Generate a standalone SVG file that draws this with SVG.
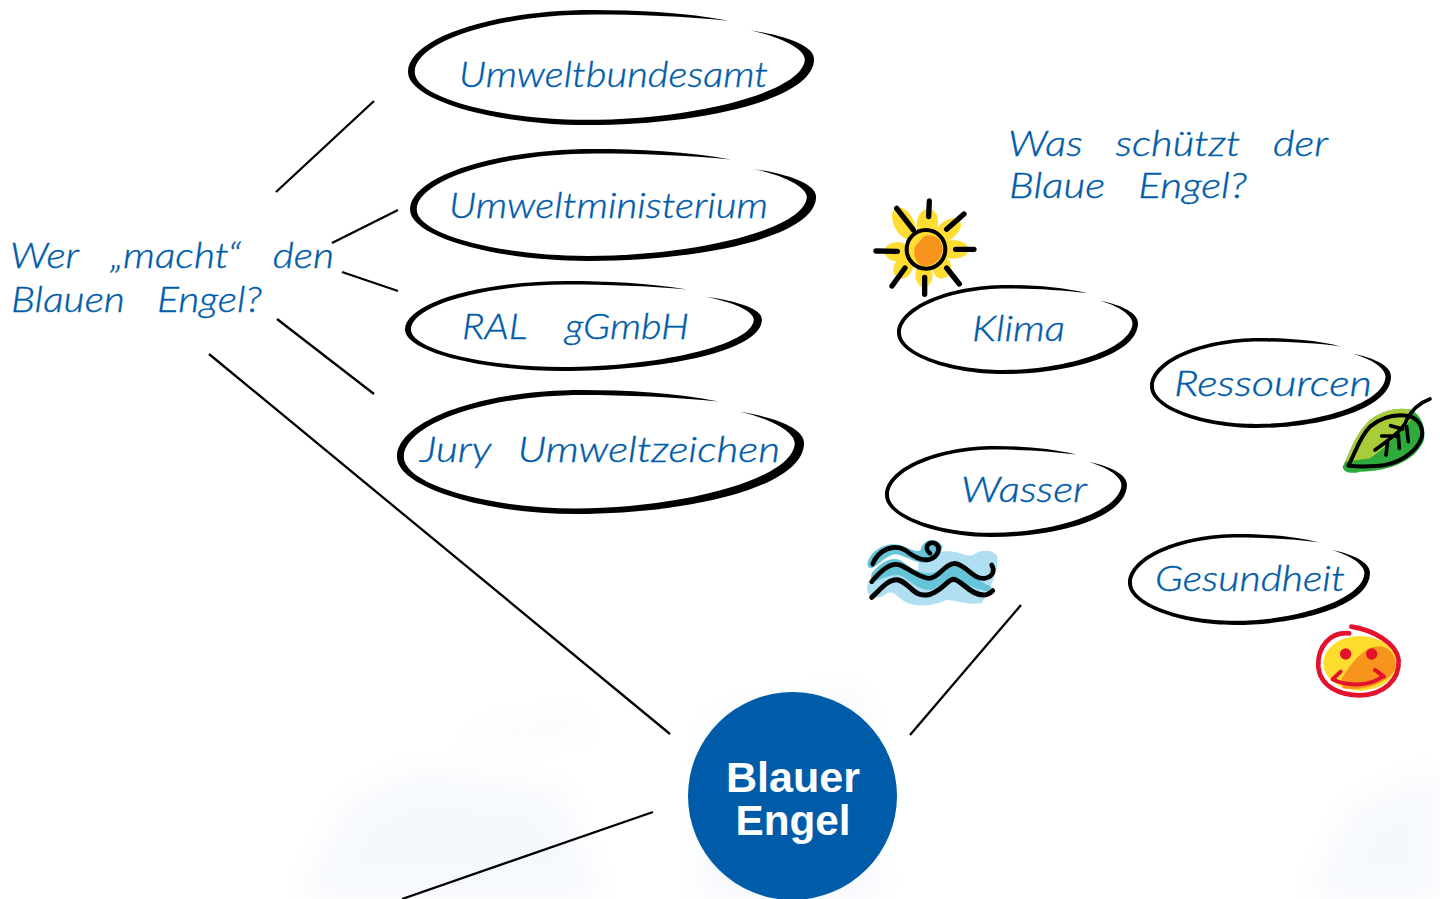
<svg xmlns="http://www.w3.org/2000/svg" width="1440" height="899" viewBox="0 0 1440 899">
<style>
.hw{font-family:"Lato","Open Sans",sans-serif;font-style:italic;font-weight:300;font-size:36px;fill:#005ca9;stroke:#005ca9;stroke-width:.4}
.gap{word-spacing:19px}
.title{font-family:"Liberation Sans",Arial,sans-serif;font-weight:700;font-size:42px;fill:#fff;text-anchor:middle}
.conn{stroke:#000;stroke-width:2.3;fill:none}
.ink{fill:none;stroke:#000;stroke-linecap:round;stroke-linejoin:round}
</style>
<defs>
<filter id="blur" x="-30%" y="-30%" width="160%" height="160%"><feGaussianBlur stdDeviation="14"/></filter>
<path id="bubble" d="M190.5,8.3C165,2 135,0 110,0C50,0 0,22 0,48C0,70 52,89 106,89C172,89 241,70 241,38C241,28 225,20 203,15.7C222,21 235,30 235.5,38C235,64 168,85 106,85C54,85 4,68 4,48C4,25 52,3.5 110,3.5C135,3.5 165,5 190.5,8.3Z"/>
</defs>
<rect width="1440" height="899" fill="#fff"/>
<g id="background" filter="url(#blur)" fill="#eef3fa" opacity=".55">
<path d="M300,899L350,800L420,770L560,790L600,899Z"/>
<path d="M700,899L710,720L860,690L880,899Z"/>
<path d="M1310,899L1350,810L1440,770L1440,899Z"/>
<path d="M470,735L580,715L585,730L470,745Z"/>
</g>
<g id="connectors">
<line class="conn" x1="374" y1="101" x2="276" y2="192"/>
<line class="conn" x1="398" y1="210" x2="332" y2="243"/>
<line class="conn" x1="342" y1="272" x2="398" y2="291"/>
<line class="conn" x1="277" y1="319" x2="374" y2="394"/>
<line class="conn" x1="209" y1="354" x2="670" y2="734"/>
<line class="conn" x1="653" y1="812" x2="402" y2="899"/>
<line class="conn" x1="1021" y1="605" x2="910" y2="735"/>
</g>
<g id="node-blauer-engel">
<ellipse cx="792.5" cy="796" rx="104.5" ry="104" fill="#005ca9"/>
<text class="title" x="793" y="792" textLength="134" lengthAdjust="spacingAndGlyphs">Blauer</text>
<text class="title" x="793" y="835" textLength="115" lengthAdjust="spacingAndGlyphs">Engel</text>
</g>
<g id="label-wer">
<text class="hw gap" x="10" y="268" textLength="324" lengthAdjust="spacingAndGlyphs">Wer „macht“ den</text>
<text class="hw gap" x="11" y="312" textLength="251" lengthAdjust="spacingAndGlyphs">Blauen Engel?</text>
</g>
<g id="label-was">
<text class="hw gap" x="1008" y="156" textLength="320" lengthAdjust="spacingAndGlyphs">Was schützt der</text>
<text class="hw gap" x="1009" y="198" textLength="238" lengthAdjust="spacingAndGlyphs">Blaue Engel?</text>
</g>
<g id="node-umweltbundesamt">
<use href="#bubble" transform="translate(408,10) scale(1.685,1.292)"/>
<text class="hw" x="459" y="87" textLength="309" lengthAdjust="spacingAndGlyphs">Umweltbundesamt</text>
</g>
<g id="node-umweltministerium">
<use href="#bubble" transform="translate(410,149) scale(1.685,1.258)"/>
<text class="hw" x="449" y="218" textLength="319" lengthAdjust="spacingAndGlyphs">Umweltministerium</text>
</g>
<g id="node-ral">
<use href="#bubble" transform="translate(405,281) scale(1.481,1.011)"/>
<text class="hw" style="word-spacing:26px" x="462" y="339" textLength="227" lengthAdjust="spacingAndGlyphs">RAL gGmbH</text>
</g>
<g id="node-jury">
<use href="#bubble" transform="translate(397,390) scale(1.689,1.393)"/>
<text class="hw" style="word-spacing:14px" x="420" y="462" textLength="360" lengthAdjust="spacingAndGlyphs">Jury Umweltzeichen</text>
</g>
<g id="node-klima">
<use href="#bubble" transform="translate(897,285)"/>
<text class="hw" x="972" y="341" textLength="93" lengthAdjust="spacingAndGlyphs">Klima</text>
</g>
<g id="node-ressourcen">
<use href="#bubble" transform="translate(1150,338) scale(1,1.011)"/>
<text class="hw" x="1174" y="396" textLength="198" lengthAdjust="spacingAndGlyphs">Ressourcen</text>
</g>
<g id="node-wasser">
<use href="#bubble" transform="translate(885,446) scale(1.004,1.022)"/>
<text class="hw" x="961" y="502" textLength="126" lengthAdjust="spacingAndGlyphs">Wasser</text>
</g>
<g id="node-gesundheit">
<use href="#bubble" transform="translate(1128,534) scale(1.004,1.022)"/>
<text class="hw" x="1155" y="591" textLength="190" lengthAdjust="spacingAndGlyphs">Gesundheit</text>
</g>
<g id="icon-sun" transform="translate(860,190) scale(.3333)">
<g fill="#ffdd33">
<ellipse cx="132" cy="100" rx="30" ry="52" transform="rotate(-28 132 100)"/>
<ellipse cx="202" cy="100" rx="32" ry="44" transform="rotate(10 202 100)"/>
<ellipse cx="262" cy="122" rx="28" ry="48" transform="rotate(50 262 122)"/>
<ellipse cx="280" cy="178" rx="46" ry="28"/>
<ellipse cx="245" cy="232" rx="28" ry="34"/>
<ellipse cx="192" cy="255" rx="26" ry="36"/>
<ellipse cx="130" cy="232" rx="28" ry="36" transform="rotate(30 130 232)"/>
<ellipse cx="112" cy="185" rx="38" ry="29"/>
<circle cx="198" cy="178" r="58"/>
</g>
<path fill="#f7941d" d="M163,180C165,160 180,158 190,140C220,125 250,150 248,180C245,215 210,230 190,228C170,222 160,200 163,180Z"/>
<circle cx="198" cy="178" r="58" fill="none" stroke="#000" stroke-width="12"/>
<path class="ink" stroke-width="16" d="M110,55L160,120M208,33L206,80M312,72L260,118M342,178L287,178M298,282L260,234M194,262L194,313M135,234L96,288M48,183L112,184"/>
</g>
<g id="icon-leaf" transform="translate(1120,330) scale(.3333)">
<path fill="#2eab3c" d="M668,410C690,370 700,320 750,270C790,240 830,232 870,238C905,255 918,290 912,330C890,390 810,425 720,425C700,432 670,430 668,410Z"/>
<path fill="#a8cc3a" d="M675,395C695,360 700,320 750,270C790,240 830,232 870,238L880,262C830,320 800,350 750,385Z"/>
<path class="ink" stroke-width="12" d="M685,407C705,370 720,320 750,290C790,258 830,252 865,258C895,265 910,290 906,320C890,370 830,405 770,408C740,410 710,410 685,407Z"/>
<path class="ink" stroke-width="11" d="M930,207C900,218 875,240 860,270C850,300 800,335 765,360M812,287L848,297M785,318L832,318M798,375L803,335M838,355L835,315M865,335L860,290"/>
</g>
<g id="icon-waves" transform="translate(850,440) scale(.3333)">
<path fill="#b0dff2" d="M205,370C220,345 260,330 310,335C340,340 355,350 370,345C385,330 430,325 442,350C445,390 430,430 395,490C340,495 320,480 290,480C260,495 200,505 165,485C140,470 130,450 110,460C90,480 60,475 52,455C48,430 60,420 70,410C110,400 160,400 205,390Z"/>
<path fill="#66c4d8" d="M52,372C60,330 110,305 150,315C180,325 200,340 212,330C215,300 260,285 278,320C270,350 250,370 215,368C180,365 150,335 125,345C100,355 85,375 65,385C58,385 52,380 52,372Z"/>
<path fill="#66c4d8" d="M65,400C90,370 120,350 150,360C180,380 200,400 240,400C270,395 290,370 315,375C350,385 390,430 425,440L415,455C380,445 350,440 315,410C290,410 270,445 240,450C200,450 170,410 145,405C110,405 90,420 60,430Z"/>
<path class="ink" stroke-width="14" d="M68,372C85,330 130,310 165,330C190,350 215,365 240,358C265,350 275,320 255,310C235,302 220,325 240,340"/>
<path class="ink" stroke-width="14" d="M65,425C90,395 120,365 150,375C185,390 210,415 240,415C270,410 285,370 315,370C350,375 370,420 405,415C430,410 435,390 425,375"/>
<path class="ink" stroke-width="15" d="M65,472C90,450 115,415 145,420C180,430 190,470 230,465C270,460 290,420 310,418C335,420 360,465 400,465C415,465 425,455 428,452"/>
</g>
<g id="icon-smiley" transform="translate(1120,330) scale(.3333)">
<ellipse cx="720" cy="1000" rx="110" ry="82" fill="#ffdd2e"/>
<path fill="#f7941d" d="M665,1045C700,990 740,940 790,950C820,960 832,990 826,1020C800,1060 730,1085 668,1075Z"/>
<circle cx="677" cy="972" r="17" fill="#e4122d"/>
<circle cx="755" cy="972" r="17" fill="#e4122d"/>
<path fill="none" stroke="#e4122d" stroke-width="12" stroke-linecap="round" d="M638,1048L662,1025M638,1048C680,1070 750,1070 790,1038M765,1020L792,1040"/>
<path fill="none" stroke="#e4122d" stroke-width="14" stroke-linecap="round" d="M688,910C630,905 592,950 595,1010C600,1070 660,1096 720,1096C790,1095 840,1050 836,990C830,940 760,900 694,890"/>
</g>
</svg>
